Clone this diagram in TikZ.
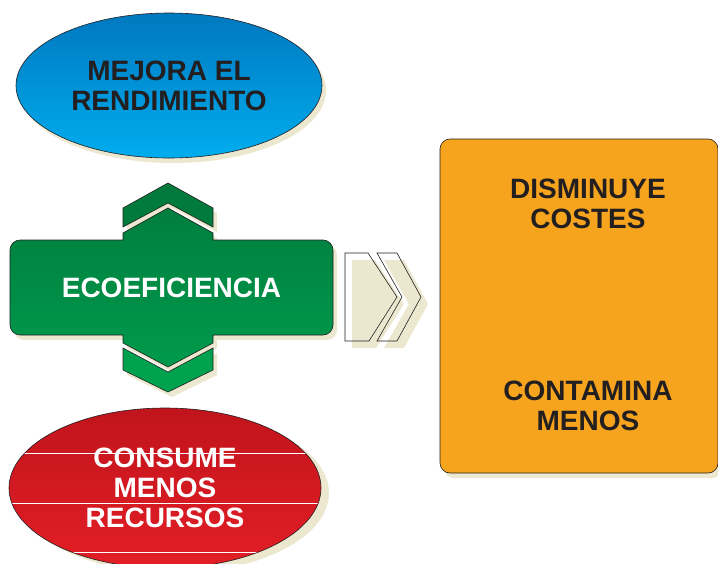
\documentclass[tikz,border=0pt]{standalone}
\usepackage{fontspec}
\setmainfont{Liberation Sans}
\usetikzlibrary{shapes.geometric}
\definecolor{cielo}{HTML}{0078BF}
\definecolor{cieloClaro}{HTML}{00ADEE}
\definecolor{verde}{HTML}{007E3E}
\definecolor{verdeClaro}{HTML}{009A4C}
\definecolor{verdeOscuro}{HTML}{007A3D}
\definecolor{verdeVivo}{HTML}{00A24F}
\definecolor{rojo}{HTML}{C1141C}
\definecolor{rojoClaro}{HTML}{E31E26}
\definecolor{naranja}{HTML}{F6A41E}
\definecolor{sombra}{HTML}{ECE7CF}
\definecolor{tinta}{HTML}{231F20}
\begin{document}
\begin{tikzpicture}[x=1pt,y=-1pt,
  contorno/.style={draw=tinta,line width=0.6pt},
  sombreado/.style={fill=sombra,draw=none},
  rotulo/.style={font=\fontsize{28}{30}\selectfont\bfseries,align=center,inner sep=0pt},
  cuerpo/.style={insert path={(20,240) -- (123,240) -- (123,233) -- (168,208) -- (213,233) -- (213,240) -- (323,240)
    .. controls (328.5,240) and (333,244.5) .. (333,250) -- (333,325)
    .. controls (333,330.5) and (328.5,335) .. (323,335) -- (213,335) -- (213,343) -- (168,367) -- (123,343) -- (123,335) -- (20,335)
    .. controls (14.5,335) and (10,330.5) .. (10,325) -- (10,250)
    .. controls (10,244.5) and (14.5,240) .. (20,240) -- cycle}},
  galonArriba/.style={insert path={(123,208) -- (168,183) -- (213,208) -- (213,227) -- (168,203) -- (123,227) -- cycle}},
  galonAbajo/.style={insert path={(123,348) -- (168,372) -- (213,348) -- (213,370) -- (168,392) -- (123,370) -- cycle}},
  flechaUno/.style={insert path={(345,253) -- (368,253) -- (397,297) -- (369,341) -- (345,341) -- cycle}},
  flechaDos/.style={insert path={(377,253) -- (397,253) -- (421,297) -- (397,341) -- (377,341) -- (402,297) -- cycle}}]
\useasboundingbox (0,0) rectangle (718,563);%
\clip (0,0) rectangle (718,563);%
%
% sombras
\def\ax{169};%
\def\ay{85.5};%
\def\rx{169};%
\def\ry{488};%
\fill[sombreado] (\ax+4,\ay+5) ellipse [x radius=153,y radius=72.5];%
\fill[sombreado] (\rx+4,\ry+5) ellipse [x radius=156,y radius=80];%
\path[sombreado,shift={(4,5)},cuerpo];%
\path[sombreado,shift={(4,5)},galonArriba];%
\path[sombreado,shift={(4,5)},galonAbajo];%
\path[sombreado,shift={(7,7)},flechaUno];%
\path[sombreado,shift={(7,7)},flechaDos];%
\fill[sombreado,rounded corners=10pt] (444,144) rectangle (722,478);%
%
% mejora el rendimiento
\node[ellipse,contorno,minimum width=306pt,minimum height=145pt,top color=cielo,bottom color=cieloClaro,
  rotulo,text=tinta] (mejora) at (\ax,\ay) {MEJORA EL\\RENDIMIENTO};%
%
% ecoeficiencia
\path[contorno,top color=verde,bottom color=verdeClaro,cuerpo];%
\path[contorno,fill=verdeOscuro,galonArriba];%
\path[contorno,fill=verdeVivo,galonAbajo];%
\node[rotulo,text=white] (eco) at (171.5,287.5) {ECOEFICIENCIA};%
%
% consume menos recursos
\node[ellipse,contorno,minimum width=312pt,minimum height=160pt,top color=rojo,bottom color=rojoClaro,
  rotulo,text=white] (consume) at (\rx-4,\ry) {CONSUME\\MENOS\\RECURSOS};%
\begin{scope}
\clip (\rx-4,\ry) ellipse [x radius=155.5,y radius=79.5];%
\foreach \y in {453,503,552}
  \draw[white,line width=0.8pt] (0,\y) -- (340,\y);%
\end{scope}
%
% flechas
\path[contorno,flechaUno];%
\path[contorno,flechaDos];%
%
% caja
\node[contorno,fill=naranja,rounded corners=10pt,minimum width=278pt,minimum height=334pt] (caja) at (579,306) {};%
\node[rotulo,text=tinta] (costes) at (588,203.5) {DISMINUYE\\COSTES};%
\node[rotulo,text=tinta] (contamina) at (588,406) {CONTAMINA\\MENOS};%
\end{tikzpicture}
\end{document}
